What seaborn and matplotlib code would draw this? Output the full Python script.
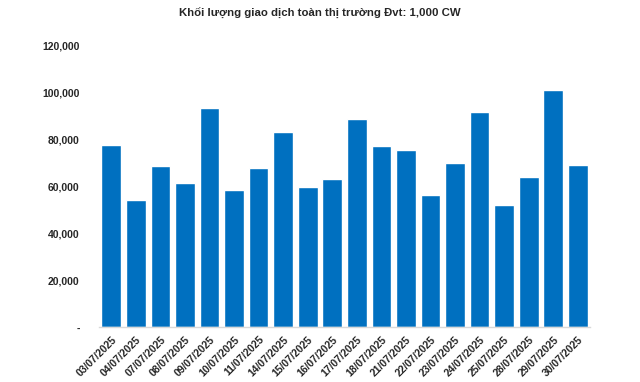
import matplotlib
matplotlib.use("Agg")
import matplotlib.pyplot as plt
import seaborn as sns
import pandas as pd
from matplotlib.ticker import FuncFormatter

dates = ["03/07/2025", "04/07/2025", "07/07/2025", "08/07/2025", "09/07/2025",
         "10/07/2025", "11/07/2025", "14/07/2025", "15/07/2025", "16/07/2025",
         "17/07/2025", "18/07/2025", "21/07/2025", "22/07/2025", "23/07/2025",
         "24/07/2025", "25/07/2025", "28/07/2025", "29/07/2025", "30/07/2025"]
volumes = [77700, 54300, 68700, 61500, 93400, 58500, 67800, 83200, 59800, 63200,
           88700, 77200, 75500, 56400, 70000, 91700, 52100, 64000, 101100, 69100]
title = "Khối lượng giao dịch toàn thị trường Đvt: 1,000 CW"

sns.set_theme(style="white")
plt.rcParams['font.family'] = ['Liberation Sans', 'DejaVu Sans']

df = pd.DataFrame({"date": dates, "volume": volumes})

fig = plt.figure(figsize=(6.4, 3.82), dpi=100)
ax = fig.add_axes([0.1547, 0.1427, 0.7673, 0.7383])
sns.barplot(data=df, x="date", y="volume", color="#0070C0", saturation=1,
            width=0.8, ax=ax)

ax.set_ylim(0, 120000)
ax.set_yticks(range(0, 120001, 20000))
ax.yaxis.set_major_formatter(FuncFormatter(lambda v, p: "-" if v == 0 else f"{int(v):,}"))
ax.set_xlim(-0.5, len(dates) - 0.5)
ax.set_xlabel("")
ax.set_ylabel("")
for s in ["top", "right", "left"]:
    ax.spines[s].set_visible(False)
ax.spines["bottom"].set_color("#d9d9d9")
ax.spines["bottom"].set_linewidth(1)
ax.tick_params(axis="both", length=0)
ax.tick_params(axis="y", pad=14, labelsize=7.5)
plt.setp(ax.get_yticklabels(), fontweight="bold")
ax.set_xticks(range(len(dates)))
ax.set_xticklabels(dates, rotation=45, ha="right", rotation_mode="anchor",
                   fontsize=7.5, fontweight="bold")
ax.tick_params(axis="x", pad=5)
fig.text(0.5, 0.965, title, ha="center", va="center", fontsize=8.2, fontweight="bold")

fig.savefig("out.png", dpi=100)
